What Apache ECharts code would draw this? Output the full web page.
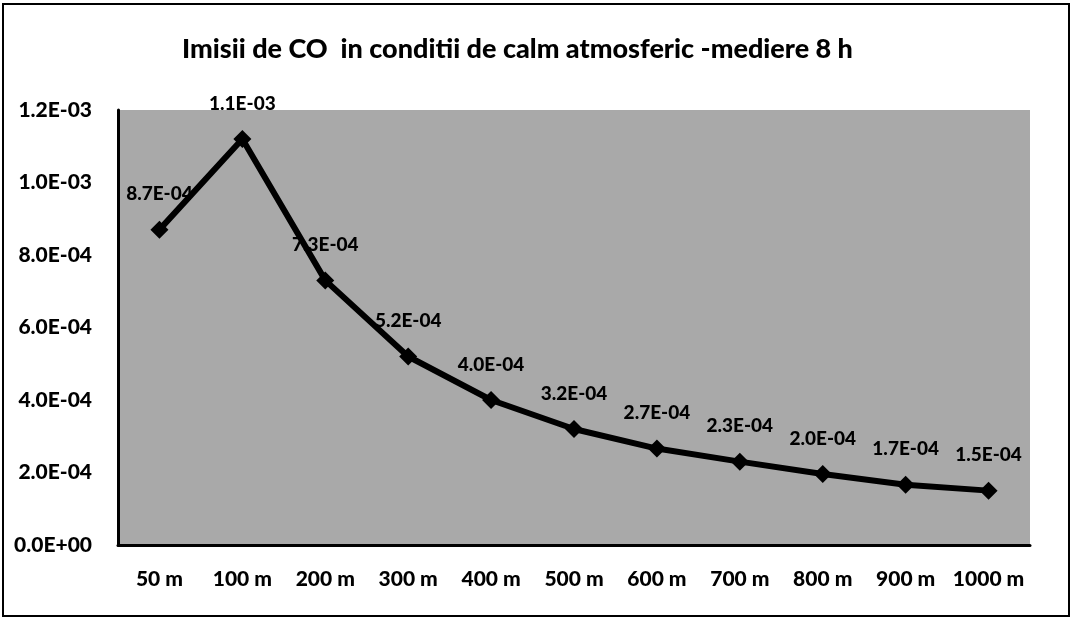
<!DOCTYPE html>
<html>
<head>
<meta charset="utf-8">
<script src="https://cdn.jsdelivr.net/npm/echarts@6/dist/echarts.min.js"></script>
<style>
html,body{margin:0;padding:0;background:#fff;}
#chart{width:1072px;height:618px;}
</style>
</head>
<body>
<div id="chart"></div>
<script>
const titleText = 'Imisii de CO  in conditii de calm atmosferic -mediere 8 h';
const categories = ['50 m','100 m','200 m','300 m','400 m','500 m','600 m','700 m','800 m','900 m','1000 m'];
const values = [8.7e-4, 1.12e-3, 7.3e-4, 5.2e-4, 4.0e-4, 3.2e-4, 2.66e-4, 2.3e-4, 1.96e-4, 1.66e-4, 1.5e-4];
const yMin = 0, yMax = 1.2e-3, yStep = 2.0e-4;

function sci(v){
  const s = Number(v).toExponential(1);
  const m = s.match(/^(-?[\d.]+)e([+-])(\d+)$/);
  if(!m) return s;
  const exp = m[3].length < 2 ? '0' + m[3] : m[3];
  return m[1] + 'E' + m[2] + exp;
}

const font = 'Lato, "Open Sans", sans-serif';
const chart = echarts.init(document.getElementById('chart'));
chart.setOption({
  backgroundColor: '#ffffff',
  animation: false,
  title: {
    text: titleText,
    left: 177,
    top: 31,
    textStyle: {fontFamily: font, fontWeight: 900, fontSize: 27, color: '#000'}
  },
  graphic: [{
    type: 'rect',
    shape: {x: 3, y: 4, width: 1066, height: 612},
    style: {fill: 'none', stroke: '#000', lineWidth: 2},
    silent: true
  }],
  grid: {left: 118, top: 110, right: 42, bottom: 73, show: true, backgroundColor: '#a9a9a9', borderWidth: 0},
  xAxis: {
    type: 'category',
    data: categories,
    boundaryGap: true,
    axisLine: {lineStyle: {color: '#000', width: 3}},
    axisTick: {show: false},
    axisLabel: {fontFamily: font, fontWeight: 900, fontSize: 21, color: '#000', margin: 24, interval: 0}
  },
  yAxis: {
    type: 'value',
    min: yMin, max: yMax, interval: yStep,
    axisLine: {show: true, lineStyle: {color: '#000', width: 3}},
    axisTick: {show: false},
    splitLine: {show: false},
    axisLabel: {fontFamily: font, fontWeight: 900, fontSize: 21, color: '#000', margin: 26,
      formatter: function(v){ return sci(v); }}
  },
  series: [{
    type: 'line',
    data: values,
    symbol: 'diamond',
    symbolSize: 18,
    lineStyle: {color: '#000', width: 6},
    itemStyle: {color: '#000'},
    label: {
      show: true, position: 'top', distance: 17,
      fontFamily: font, fontWeight: 900, fontSize: 19, color: '#000',
      formatter: function(p){ return sci(p.value); }
    }
  }]
});
</script>
</body>
</html>
